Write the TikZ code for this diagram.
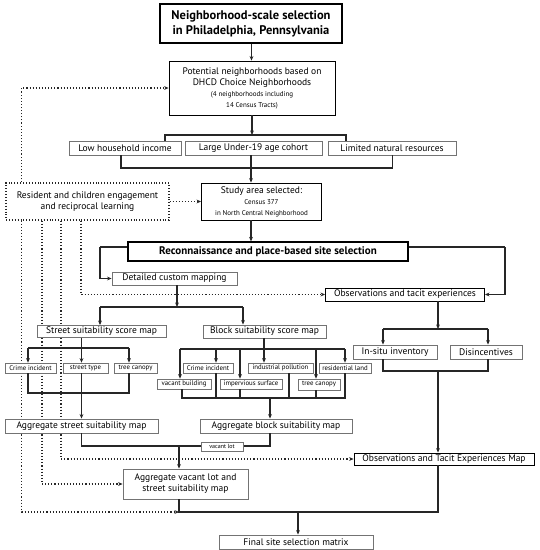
\documentclass[tikz,border=0pt]{standalone}
\usepackage{fontspec}
\setmainfont{PT Sans}
\usetikzlibrary{arrows.meta,calc}
\pgfdeclarelayer{paper}
\pgfdeclarelayer{dots}
\pgfsetlayers{paper,dots,main}
\tikzset{
  box/.style={draw=#1, line width=0.9pt, fill=white, inner sep=0pt, align=center, font=\fontsize{9.5}{11}\selectfont},
  box/.default={black!55},
  bbox/.style={box=black},
  sbox/.style={draw=black!55, line width=0.8pt, fill=white, inner sep=0pt, align=center, font=\fontsize{6.8}{8}\selectfont},
  ln/.style={draw=black!85, line width=1.2pt},
  arr/.style={ln, -{Stealth[length=4.5pt,width=3.8pt]}},
  dot/.style={draw=black!85, line width=1.1pt, dotted, line cap=butt},
  darr/.style={dot, -{Stealth[length=4.5pt,width=3.8pt]}},
}
\newcommand{\sm}{\fontsize{7}{8.5}\selectfont}
\begin{document}
\begin{tikzpicture}[x=1pt,y=-1pt]
\begin{pgfonlayer}{paper}
\fill[white] (0,0) rectangle (540,550);
\end{pgfonlayer}
\useasboundingbox (0,0) rectangle (540,550);
% nodes
\node[box=black, line width=1.4pt, minimum width=182, minimum height=39, font=\fontsize{12.5}{15}\bfseries] (title) at (251,23.5) {Neighborhood-scale selection\\in Philadelphia, Pennsylvania};
\node[bbox, minimum width=166, minimum height=54] (pot) at (252,88) {Potential neighborhoods based on\\DHCD Choice Neighborhoods\\{\sm (4 neighborhoods including}\\{\sm 14 Census Tracts)}};
\node[box, minimum width=112, minimum height=14] (low) at (125,148) {Low household income};
\node[box, minimum width=137, minimum height=14] (large) at (253.5,148) {Large Under-19 age cohort};
\node[box, minimum width=128, minimum height=14] (lim) at (392,148) {Limited natural resources};
\node[bbox, minimum width=120, minimum height=37] (study) at (261.5,201.5) {Study area selected:\\{\sm Census 377}\\{\sm in North Central Neighborhood}};
\node[box, dotted, draw=black!85, line width=1.1pt, minimum width=163, minimum height=37] (res) at (87.5,201.5) {Resident and children engagement\\and reciprocal learning};
\node[bbox, line width=1.2pt, minimum width=280, minimum height=19, font=\fontsize{11}{13}\bfseries] (recon) at (268,251.5) {Reconnaissance and place-based site selection};
\node[box, minimum width=125, minimum height=13] (detail) at (174.5,278.5) {Detailed custom mapping};
\node[bbox, minimum width=159, minimum height=13] (obs) at (405,294.5) {Observations and tacit experiences};
\node[box, minimum width=129, minimum height=12] (street) at (101.5,331.5) {Street suitability score map};
\node[box, minimum width=123, minimum height=13] (block) at (264.5,331.5) {Block suitability score map};
\node[sbox, minimum width=51, minimum height=10] (crime1) at (30.5,368) {Crime incident};
\node[sbox, minimum width=45, minimum height=10] (stype) at (85.5,368) {street type};
\node[sbox, minimum width=43, minimum height=10] (tcan1) at (135.5,368) {tree canopy};
\node[sbox, minimum width=54, minimum height=10] (vacb) at (184,384) {vacant building};
\node[sbox, minimum width=50, minimum height=10] (crime2) at (208,368) {Crime incident};
\node[sbox, minimum width=62, minimum height=10] (imp) at (251,384) {impervious surface};
\node[sbox, minimum width=65, minimum height=10] (ind) at (280.5,368) {industrial pollution};
\node[sbox, minimum width=42, minimum height=11] (tcan2) at (319,384.5) {tree canopy};
\node[sbox, minimum width=52, minimum height=10] (resl) at (345,368) {residential land};
\node[box, minimum width=84, minimum height=14] (insitu) at (395,352) {In-situ inventory};
\node[box, minimum width=72, minimum height=14] (disinc) at (486,352) {Disincentives};
\node[box, minimum width=153, minimum height=14] (aggst) at (81.5,426) {Aggregate street suitability map};
\node[box, minimum width=152, minimum height=14] (aggbl) at (276,426) {Aggregate block suitability map};
\node[box, minimum width=125, minimum height=30] (aggvac) at (185.5,484) {Aggregate vacant lot and\\street suitability map};
\node[bbox, minimum width=180, minimum height=12] (obsmap) at (444,459) {Observations and Tacit Experiences Map};
\node[box, minimum width=154, minimum height=14] (final) at (296,542) {Final site selection matrix};
% junction coordinates
\coordinate (jtop) at (252,135);
\coordinate (jrecL) at (100,247);
\coordinate (jrecR) at (505,247);
\coordinate (jdet) at (177,307);
\coordinate (jst) at (81.5,348);
\coordinate (jst2) at (81.5,393);
\coordinate (jbl) at (264,349);
\coordinate (jbl2) at (270,398);
\coordinate (jobs) at (438,329);
\coordinate (jobs2) at (438,371);
\coordinate (jvac) at (179,446);
\coordinate (jfin) at (179,512);
% main flow
\draw[arr] (title.south -| 251.5,0) -- (pot.north -| 251.5,0);
\draw[arr] (pot.south -| jtop) -- (jtop);
\draw[ln] (low.north -| 165,0) -- (165,135) -- (346,135) -- (lim.north -| 346,0);
\draw[ln] (low.south -| 121,0) -- (121,168) -- (392.5,168) -- (lim.south -| 392.5,0);
\draw[arr] (large.south -| 251,0) -- (study.north -| 251,0);
\draw[arr] (study.south -| 251,0) -- (recon.north -| 251,0);
\draw[ln] (recon.west |- jrecL) -- (jrecL);
\draw[arr] (jrecL) |- (detail.west);
\draw[ln] (recon.east |- jrecR) -- (jrecR);
\draw[arr] (jrecR) |- (obs.east);
% detail branch
\draw[arr] (detail.south -| jdet) -- (jdet);
\draw[ln] (100,307) -- (243,307);
\draw[arr] (100,307) -- (street.north -| 100,0);
\draw[arr] (243,307) -- (block.north -| 243,0);
% street
\draw[ln] (street.south -| jst) -- (jst);
\draw[ln] (28,348) -- (129,348);
\draw[arr] (28,348) -- (crime1.north -| 28,0);
\draw[arr] (jst) -- (stype.north -| jst);
\draw[arr] (129,348) -- (tcan1.north -| 129,0);
\draw[ln] (crime1.south -| 28,0) -- (28,393) -- (129,393) -- (tcan1.south -| 129,0);
\draw[arr] (stype.south -| jst2) -- (aggst.north -| jst2);
% block
\draw[ln] (block.south -| jbl) -- (jbl);
\draw[ln] (180,349) -- (345,349);
\draw[arr] (180,349) -- (vacb.north -| 180,0);
\draw[arr] (216,349) -- (crime2.north -| 216,0);
\draw[arr] (240,349) -- (imp.north -| 240,0);
\draw[arr] (jbl) -- (ind.north -| jbl);
\draw[arr] (316,349) -- (tcan2.north -| 316,0);
\draw[arr] (345,349) -- (resl.north -| 345,0);
\draw[ln] (vacb.south -| 182,0) -- (182,398) -- (345,398) -- (resl.south -| 345,0);
\draw[ln] (crime2.south -| 216,0) -- (216,398);
\draw[ln] (imp.south -| 240,0) -- (240,398);
\draw[ln] (ind.south -| 289,0) -- (289,398);
\draw[ln] (tcan2.south -| 316,0) -- (316,398);
\draw[arr] (jbl2) -- (aggbl.north -| jbl2);
% observations
\draw[arr] (obs.south -| jobs) -- (jobs);
\draw[ln] (383,329) -- (488,329);
\draw[arr] (383,329) -- (insitu.north -| 383,0);
\draw[arr] (488,329) -- (disinc.north -| 488,0);
\draw[ln] (insitu.south -| 383,0) -- (383,371) -- (488,371) -- (disinc.south -| 488,0);
\draw[arr] (jobs2) -- (obsmap.north -| jobs2);
% aggregation
\draw[ln] (aggst.south -| 81.5,0) -- (81.5,446) -- (270,446) -- (aggbl.south -| 270,0);
\node[sbox, minimum width=42, minimum height=9, font=\fontsize{6}{7}\selectfont] (vlot) at (222,446.5) {vacant lot};
\draw[arr] (jvac) -- (aggvac.north -| jvac);
\draw[ln] (aggvac.south -| jfin) -- (jfin) -- (438,512) -- (obsmap.south -| 438,0);
\draw[arr] (298,512) -- (final.north -| 298,0);
% dotted engagement links (beneath the boxes)
\begin{pgfonlayer}{dots}
\draw[darr] (res.north -| 21.7,0) |- (pot.west);
\draw[darr] (res.east |- study.west) -- (study.west);
\draw[darr] (res.south -| 81,0) |- (obs.west);
\draw[darr] (res.south -| 61,0) |- (obsmap.west);
\draw[darr] (res.south -| 42,0) |- (aggvac.west);
\draw[darr] (res.south -| 21.7,0) |- (jfin);
\end{pgfonlayer}
\end{tikzpicture}
\end{document}
